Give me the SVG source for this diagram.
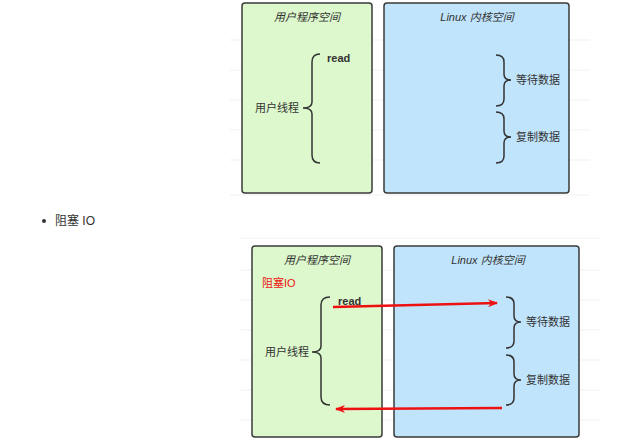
<svg xmlns="http://www.w3.org/2000/svg" width="628" height="444" viewBox="0 0 628 444">
<defs>
<style>
.t{font-family:"Liberation Sans","Noto Sans CJK SC",sans-serif;font-size:11px;fill:#333}
.ti{font-family:"Liberation Sans","Noto Sans CJK SC",sans-serif;font-size:11px;font-style:italic;fill:#333;text-anchor:middle}
.rd{font-family:"Liberation Sans","Noto Sans CJK SC",sans-serif;font-size:11px;font-weight:bold;fill:#333}
.g{fill:#dcf8cc;stroke:#3a3a3a;stroke-width:1.5}
.b{fill:#c0e4fb;stroke:#3a3a3a;stroke-width:1.5}
.br{fill:none;stroke:#333;stroke-width:1.5}
.ar{stroke:#ee1111;stroke-width:2.5;fill:none}
.grid{stroke:#f1f1f1;stroke-width:1}
</style>
<marker id="ah" markerWidth="10" markerHeight="8" refX="9" refY="4" orient="auto" markerUnits="userSpaceOnUse">
<path d="M0,0 L10,4 L0,8 L3,4 Z" fill="#ee1111"/>
</marker>
</defs>
<rect width="628" height="444" fill="#fff"/>
<g id="grid">
<path class="grid" d="M230,40H590M230,70H590M230,100H590M230,130H590M230,160H590M230,195H590M240,238H600M240,270H600M240,300H600M240,330H600M240,360H600M240,390H600M240,420H600"/>
</g>
<g id="bullet">
<circle cx="44" cy="221" r="2" fill="#333"/>
<text class="t" x="55" y="225" style="font-size:12px">阻塞 IO</text>
</g>
<g id="top-user">
<rect class="g" x="242" y="3" width="130" height="190" rx="3"/>
<text class="ti" x="307" y="21">用户程序空间</text>
<text class="t" x="255" y="112">用户线程</text>
<path class="br" d="M320,54 Q312,54 312,62 L312,102 Q312,108 303,108 Q312,108 312,114 L312,155 Q312,163 320,163"/>
<text class="rd" x="327" y="62">read</text>
</g>
<g id="top-kernel">
<rect class="b" x="384" y="3" width="185" height="190" rx="3"/>
<text class="ti" x="477" y="21">Linux 内核空间</text>
<path class="br" d="M496,55 Q504,55 504,62 L504,74 Q504,80 511,80 Q504,80 504,86 L504,99 Q504,106 496,106"/>
<text class="t" x="516" y="84">等待数据</text>
<path class="br" d="M496,112 Q504,112 504,119 L504,131 Q504,137 511,137 Q504,137 504,143 L504,156 Q504,163 496,163"/>
<text class="t" x="516" y="141">复制数据</text>
</g>
<g id="bot-user">
<rect class="g" x="252" y="246" width="130" height="191" rx="3"/>
<text class="ti" x="317" y="264">用户程序空间</text>
<text class="t" x="262" y="287" style="fill:#ee1111">阻塞IO</text>
<text class="t" x="265" y="356">用户线程</text>
<path class="br" d="M330,297 Q321,297 321,305 L321,346 Q321,352 312,352 Q321,352 321,358 L321,397 Q321,405 330,405"/>
<text class="rd" x="338" y="305">read</text>
</g>
<g id="bot-kernel">
<rect class="b" x="394" y="246" width="185" height="191" rx="3"/>
<text class="ti" x="488" y="264">Linux 内核空间</text>
<path class="br" d="M506,297 Q514,297 514,304 L514,316 Q514,322 521,322 Q514,322 514,328 L514,341 Q514,348 506,348"/>
<text class="t" x="526" y="326">等待数据</text>
<path class="br" d="M506,355 Q514,355 514,362 L514,374 Q514,380 521,380 Q514,380 514,386 L514,398 Q514,405 506,405"/>
<text class="t" x="526" y="384">复制数据</text>
</g>
<g id="connectors">
<line class="ar" x1="333" y1="307" x2="497" y2="303" marker-end="url(#ah)"/>
<line class="ar" x1="502" y1="408" x2="336" y2="409" marker-end="url(#ah)"/>
</g>
</svg>
